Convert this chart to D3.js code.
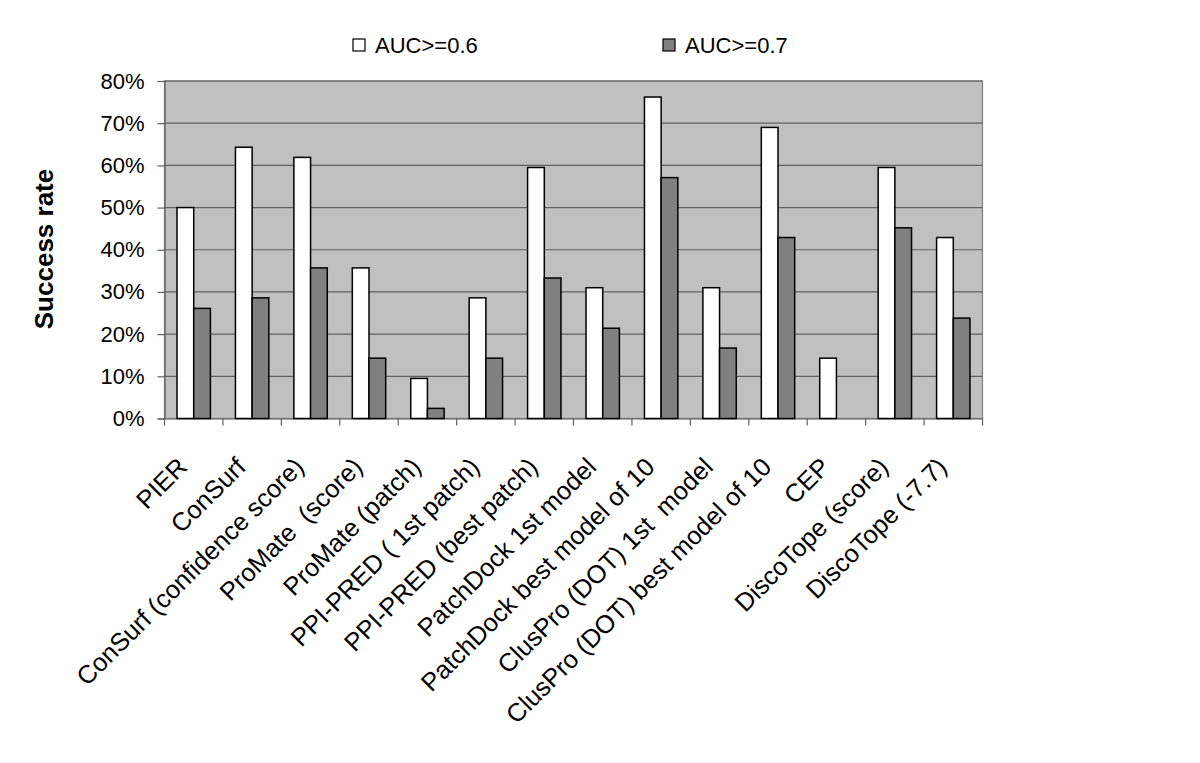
<!DOCTYPE html>
<html><head><meta charset="utf-8">
<script src="https://cdn.jsdelivr.net/npm/d3@7"></script>
<style>body{margin:0;background:#fff}svg{display:block}</style>
</head><body>
<svg id="c" width="1200" height="763"></svg>
<script>
const categories = ["PIER","ConSurf","ConSurf (confidence score)","ProMate  (score)","ProMate (patch)","PPI-PRED ( 1st patch)","PPI-PRED (best patch)","PatchDock 1st model","PatchDock best model of 10","ClusPro (DOT) 1st  model","ClusPro (DOT) best model of 10","CEP","DiscoTope (score)","DiscoTope (-7.7)"];
const auc06 = [50.0,64.3,61.9,35.7,9.5,28.6,59.5,31.0,76.2,31.0,69.0,14.3,59.5,42.9];
const auc07 = [26.1,28.6,35.7,14.3,2.4,14.3,33.3,21.4,57.1,16.7,42.9,0,45.2,23.8];
const seriesNames = ["AUC>=0.6","AUC>=0.7"];
const yTicks = [0,10,20,30,40,50,60,70,80];

const font = "'Liberation Sans', Arial, sans-serif";
const svg = d3.select("#c");
const L = 164.5, R = 982.5, T = 81, B = 418.5;
const x = d3.scaleBand().domain(categories).range([L, R]);
const y = d3.scaleLinear().domain([0, 80]).range([B, T]);
const bw = x.bandwidth() / 3.5;
const colors = ["#ffffff", "#808080"];

svg.append("rect").attr("x", L).attr("y", T).attr("width", R - L).attr("height", B - T)
  .attr("fill", "#c0c0c0").attr("stroke", "#808080").attr("stroke-width", 1.2);

svg.append("g").selectAll("line").data(yTicks.filter(d => d > 0)).join("line")
  .attr("x1", L).attr("x2", R).attr("y1", d => y(d)).attr("y2", d => y(d))
  .attr("stroke", "#606060").attr("stroke-width", 1.2);

// y axis
const ya = svg.append("g").attr("transform", `translate(${L},0)`)
  .call(d3.axisLeft(y).tickValues(yTicks).tickFormat(d => d + "%").tickSize(7).tickPadding(13));
ya.select(".domain").attr("stroke", "#606060").attr("stroke-width", 1.2);
ya.selectAll(".tick line").attr("stroke", "#606060").attr("stroke-width", 1.2);
ya.selectAll("text").attr("font-family", font).attr("font-size", 22).attr("fill", "#000");

// x axis
const xa = svg.append("g").attr("transform", `translate(0,${B})`)
  .call(d3.axisBottom(x).tickSize(0).tickFormat(""));
xa.select(".domain").attr("stroke", "#606060").attr("stroke-width", 1.2);
const bounds = categories.map((c, i) => x(c)).concat([R]);
svg.append("g").selectAll("line").data(bounds).join("line")
  .attr("x1", d => d).attr("x2", d => d).attr("y1", B).attr("y2", B + 7)
  .attr("stroke", "#606060").attr("stroke-width", 1.2);

// bars
const data = [auc06, auc07];
data.forEach((vals, s) => {
  svg.append("g").selectAll("rect").data(categories).join("rect")
    .filter((c, i) => vals[i] > 0)
    .attr("x", c => x(c) + (x.bandwidth() - 2 * bw) / 2 + s * bw)
    .attr("y", (c) => y(vals[categories.indexOf(c)]))
    .attr("width", bw)
    .attr("height", c => B - y(vals[categories.indexOf(c)]))
    .attr("fill", colors[s]).attr("stroke", "#000").attr("stroke-width", 1.5);
});

// category labels
svg.append("g").selectAll("text").data(categories).join("text")
  .attr("transform", c => `translate(${x(c) + x.bandwidth() / 2 - 5},${B + 50}) rotate(-45)`)
  .attr("text-anchor", "end").attr("font-family", font).attr("font-size", 25.4)
  .attr("xml:space", "preserve").style("white-space", "pre")
  .text(c => c);

// y title
svg.append("text").attr("transform", "translate(53,249) rotate(-90)")
  .attr("text-anchor", "middle").attr("font-family", font).attr("font-size", 26)
  .attr("font-weight", "bold").text("Success rate");

// legend
const legX = [353, 663];
seriesNames.forEach((n, i) => {
  svg.append("rect").attr("x", legX[i]).attr("y", 39).attr("width", 12).attr("height", 12)
    .attr("fill", colors[i]).attr("stroke", "#000").attr("stroke-width", 1.2);
  svg.append("text").attr("x", legX[i] + 22).attr("y", 52.5).attr("font-family", font)
    .attr("font-size", 22).text(n);
});
</script>
</body></html>
